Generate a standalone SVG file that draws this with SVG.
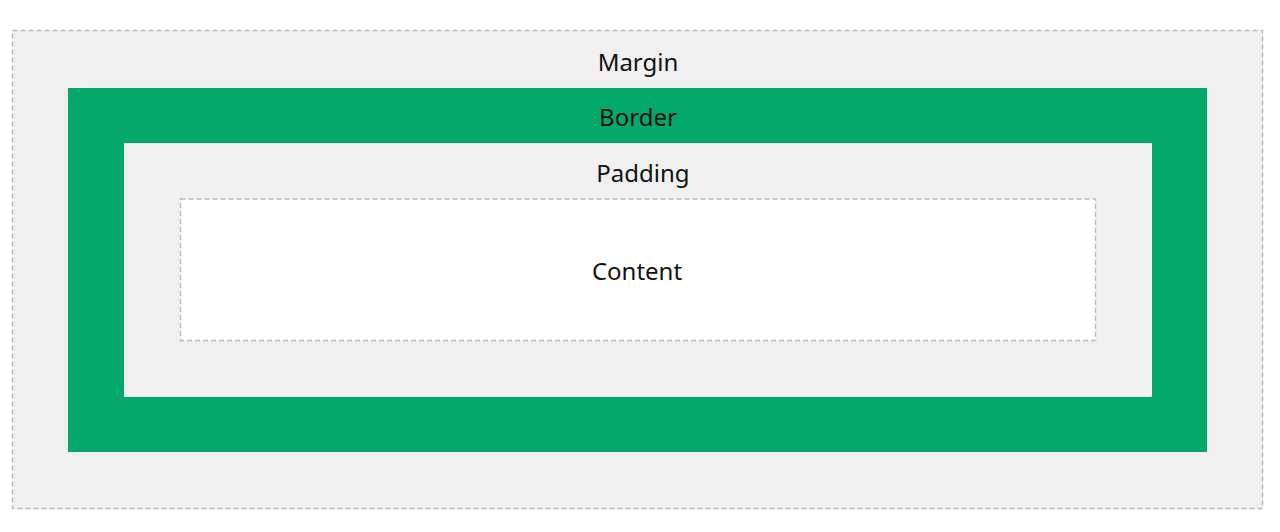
<svg xmlns="http://www.w3.org/2000/svg" width="1280" height="532" viewBox="0 0 1280 532">
<style>
.dash{stroke:#bbbbbb;stroke-width:1.5;stroke-dasharray:5 3}
.lbl{font-family:"Noto Sans","Liberation Sans",sans-serif;font-size:24px;fill:#111;text-anchor:middle}
</style>
<rect x="0" y="0" width="1280" height="532" fill="#ffffff"/>
<g id="margin">
<rect x="12.5" y="30.5" width="1250" height="478" fill="#f0f0f0" class="dash"/>
<text class="lbl" x="638" y="71">Margin</text>
</g>
<g id="border">
<rect x="68" y="88" width="1139" height="364" fill="#05a86b"/>
<text class="lbl" x="638" y="126">Border</text>
</g>
<g id="padding">
<rect x="124" y="143" width="1028" height="254" fill="#f0f0f0"/>
<text class="lbl" x="643" y="182">Padding</text>
</g>
<g id="content">
<rect x="180.5" y="199" width="915" height="141.5" fill="#ffffff" class="dash"/>
<text class="lbl" x="637" y="280">Content</text>
</g>
<g id="connectors"></g>
</svg>
